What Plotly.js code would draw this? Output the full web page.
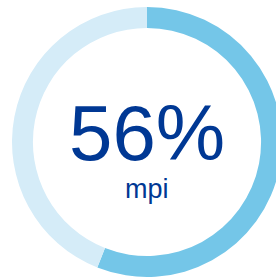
<!DOCTYPE html>
<html><head><meta charset="utf-8">
<script src="https://cdn.plot.ly/plotly-3.0.1.min.js"></script>
<style>html,body{margin:0;padding:0;overflow:hidden;background:#fff;width:276px;height:279px}</style>
</head><body><div id="chart"></div>
<script>
const labels = ["mpi", "rest"];
const values = [56, 44];
const colors = ["#74C6E8", "#D5ECF8"];
const mainLabel = "56%";
const subLabel = "mpi";

const W = 290, H = 279;
const data = [{
  type: "pie",
  labels: labels,
  values: values,
  sort: false,
  direction: "clockwise",
  rotation: 0,
  hole: 0.845,
  textinfo: "none",
  hoverinfo: "none",
  marker: {colors: colors, line: {width: 0}},
  domain: {x: [12/W, 282/W], y: [1-277/H, 1-7/H]},
  showlegend: false
}];
const layout = {
  width: W, height: H,
  margin: {l:0, r:0, t:0, b:0},
  paper_bgcolor: "#fff",
  showlegend: false,
  annotations: [
    {text: mainLabel, x: 147/W, y: 1-133/H, xref: "paper", yref: "paper", xanchor: "center", yanchor: "middle", showarrow: false,
     height: 70, valign: "middle",
     font: {family: "Liberation Sans, Arial, sans-serif", size: 78, color: "#003894"}},
    {text: subLabel, x: 147/W, y: 1-189/H, xref: "paper", yref: "paper", xanchor: "center", yanchor: "middle", showarrow: false,
     height: 30, valign: "middle",
     font: {family: "Liberation Sans, Arial, sans-serif", size: 27, color: "#003894"}}
  ]
};
Plotly.newPlot("chart", data, layout, {staticPlot: true, displayModeBar: false});
</script></body></html>
